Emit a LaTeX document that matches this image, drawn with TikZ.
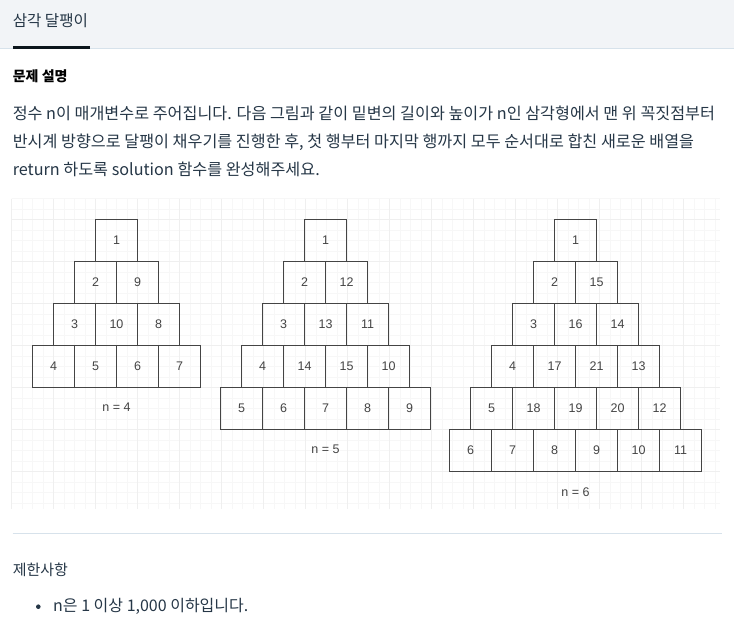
\documentclass[tikz,border=0pt]{standalone}
\usepackage{fontspec}
\usepackage{xcolor}
\usepackage{tikz}
\usetikzlibrary{positioning}
\setmainfont{Noto Sans CJK KR}
\newfontfamily\cellfont{Liberation Sans}
\definecolor{headgrey}{RGB}{242,244,247}
\definecolor{rulegrey}{RGB}{215,226,235}
\definecolor{inkdark}{RGB}{38,55,71}
\definecolor{tabblack}{RGB}{12,21,28}
\definecolor{gridlight}{RGB}{247,247,247}
\definecolor{gridmid}{RGB}{239,239,239}
\definecolor{celldark}{RGB}{68,68,68}
\tikzset{
  txt/.style={anchor=base west, inner sep=0pt, text=inkdark},
  cell/.style={draw=celldark, line width=1.3pt, minimum size=42pt, inner sep=0pt,
    outer sep=0pt, text=celldark, font=\cellfont\fontsize{12.5}{12.5}\selectfont},
  caption/.style={inner sep=0pt, text=celldark, font=\cellfont\fontsize{12.5}{12.5}\selectfont}
}

\begin{document}
\begin{tikzpicture}[x=1pt,y=-1pt]
\useasboundingbox (0,0) rectangle (734,633);
\fill[white] (0,0) rectangle (734,633);

% tab bar
\fill[headgrey] (0,0) rectangle (734,48);
\draw[rulegrey, line width=1pt] (0,48.5) -- (734,48.5);
\fill[tabblack] (12.7,45.8) rectangle (90,48.6);
\node[txt, font=\fontsize{15.6}{15.6}\selectfont] (tab) at (12.6,26.5) {삼각 달팽이};

% description
\node[txt, font=\bfseries\fontsize{14}{14}\selectfont, text=black] (head) at (12.6,81.5) {문제 설명};
\node[txt, font=\fontsize{16.2}{16.2}\selectfont] (line1) at (12.6,119.5) {정수 n이 매개변수로 주어집니다. 다음 그림과 같이 밑변의 길이와 높이가 n인 삼각형에서 맨 위 꼭짓점부터};
\node[txt, font=\fontsize{16.2}{16.2}\selectfont] (line2) at (12.6,147.5) {반시계 방향으로 달팽이 채우기를 진행한 후, 첫 행부터 마지막 행까지 모두 순서대로 합친 새로운 배열을};
\node[txt, font=\fontsize{16.2}{16.2}\selectfont] (line3) at (12.6,175.5) {return 하도록 solution 함수를 완성해주세요.};

% grid paper
\foreach \i in {0,...,67} \draw[gridlight] ({11.5+10.5*\i},198.5) -- ({11.5+10.5*\i},509);
\foreach \j in {0,...,29} \draw[gridlight] (11.5,{198.5+10.5*\j}) -- (720,{198.5+10.5*\j});
\foreach \i in {0,4,...,64} \draw[gridmid] ({11.5+10.5*\i},198.5) -- ({11.5+10.5*\i},509);
\foreach \j in {2,6,...,26} \draw[gridmid] (11.5,{198.5+10.5*\j}) -- (720,{198.5+10.5*\j});

% n = 4
\node[cell] (a11) at (116.5,240.5) {1};
\node[cell, below=0pt of a11.south west] (a21) {2}; \node[cell, right=0pt of a21] (a22) {9};
\node[cell, below=0pt of a21.south west] (a31) {3}; \node[cell, right=0pt of a31] (a32) {10}; \node[cell, right=0pt of a32] (a33) {8};
\node[cell, below=0pt of a31.south west] (a41) {4}; \node[cell, right=0pt of a41] (a42) {5}; \node[cell, right=0pt of a42] (a43) {6}; \node[cell, right=0pt of a43] (a44) {7};
\node[caption] (alabel) at (116.5,407) {n = 4};

% n = 5
\node[cell] (b11) at (325.5,240.5) {1};
\node[cell, below=0pt of b11.south west] (b21) {2}; \node[cell, right=0pt of b21] (b22) {12};
\node[cell, below=0pt of b21.south west] (b31) {3}; \node[cell, right=0pt of b31] (b32) {13}; \node[cell, right=0pt of b32] (b33) {11};
\node[cell, below=0pt of b31.south west] (b41) {4}; \node[cell, right=0pt of b41] (b42) {14}; \node[cell, right=0pt of b42] (b43) {15}; \node[cell, right=0pt of b43] (b44) {10};
\node[cell, below=0pt of b41.south west] (b51) {5}; \node[cell, right=0pt of b51] (b52) {6}; \node[cell, right=0pt of b52] (b53) {7}; \node[cell, right=0pt of b53] (b54) {8}; \node[cell, right=0pt of b54] (b55) {9};
\node[caption] (blabel) at (325.5,449.5) {n = 5};

% n = 6
\node[cell] (c11) at (575.5,240.5) {1};
\node[cell, below=0pt of c11.south west] (c21) {2}; \node[cell, right=0pt of c21] (c22) {15};
\node[cell, below=0pt of c21.south west] (c31) {3}; \node[cell, right=0pt of c31] (c32) {16}; \node[cell, right=0pt of c32] (c33) {14};
\node[cell, below=0pt of c31.south west] (c41) {4}; \node[cell, right=0pt of c41] (c42) {17}; \node[cell, right=0pt of c42] (c43) {21}; \node[cell, right=0pt of c43] (c44) {13};
\node[cell, below=0pt of c41.south west] (c51) {5}; \node[cell, right=0pt of c51] (c52) {18}; \node[cell, right=0pt of c52] (c53) {19}; \node[cell, right=0pt of c53] (c54) {20}; \node[cell, right=0pt of c54] (c55) {12};
\node[cell, below=0pt of c51.south west] (c61) {6}; \node[cell, right=0pt of c61] (c62) {7}; \node[cell, right=0pt of c62] (c63) {8}; \node[cell, right=0pt of c63] (c64) {9}; \node[cell, right=0pt of c64] (c65) {10}; \node[cell, right=0pt of c65] (c66) {11};
\node[caption] (clabel) at (575.5,492) {n = 6};

% restrictions
\draw[rulegrey, line width=1pt] (12.6,533.5) -- (722,533.5);
\node[txt, font=\fontsize{15}{15}\selectfont] (limits) at (12.6,575) {제한사항};
\fill[inkdark] (38.3,606.7) circle (2.3);
\node[txt, font=\fontsize{16}{16}\selectfont] (rule1) at (53,611) {n은 1 이상 1,000 이하입니다.};
\end{tikzpicture}
\end{document}
